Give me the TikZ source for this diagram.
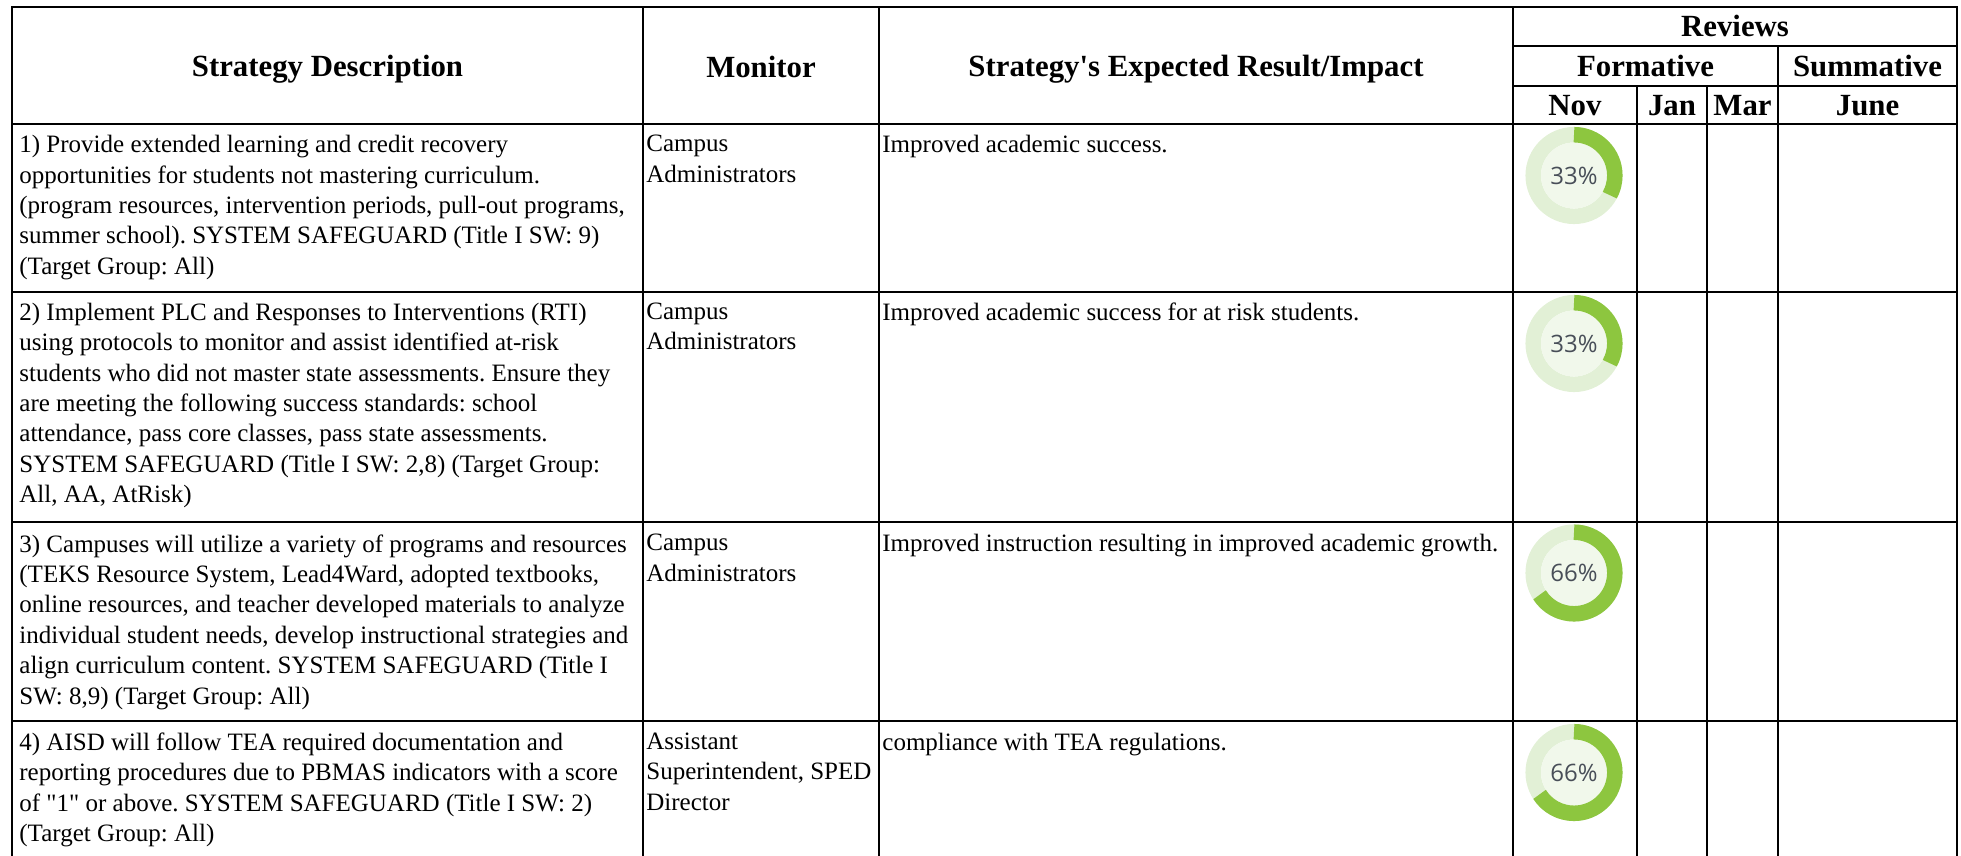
\documentclass[tikz,border=0pt]{standalone}
\usepackage{fontspec}
\setmainfont{Liberation Serif}[Ligatures=TeXOff]
\newfontfamily\pctfont{Open Sans}
\usepackage{tikz}
\usetikzlibrary{positioning}
\definecolor{donutgreen}{RGB}{141,198,63}
\definecolor{donutring}{RGB}{226,240,214}
\definecolor{donutcore}{RGB}{241,248,235}
\definecolor{pctgray}{RGB}{72,78,88}
\frenchspacing

\begin{document}
\begin{tikzpicture}[x=0.5pt,y=-0.5pt,line cap=rect,line join=miter,
  grid/.style={line width=1pt,color=black},
  headtxt/.style={font=\fontsize{15.4}{18}\selectfont\bfseries,inner sep=0pt},
  celltxt/.style={font=\fontsize{12.5}{15.2}\selectfont,align=left,anchor=north west,inner sep=0pt},
  pcttxt/.style={font=\pctfont\fontsize{12}{13}\selectfont,color=pctgray,inner sep=0pt}]
\useasboundingbox (0,0) rectangle (1961,856);
% table rules
\draw [grid] (12,7.5)-- (1957,7.5);
\draw [grid] (1513,46)-- (1957,46);
\draw [grid] (1513,86)-- (1957,86);
\draw [grid] (12,124)-- (1957,124);
\draw [grid] (12,291.5)-- (1957,291.5);
\draw [grid] (12,521.5)-- (1957,521.5);
\draw [grid] (12,720.5)-- (1957,720.5);
\draw [grid] (12,7.5)-- (12,860);
\draw [grid] (643,7.5)-- (643,860);
\draw [grid] (879,7.5)-- (879,860);
\draw [grid] (1513,7.5)-- (1513,860);
\draw [grid] (1637,86)-- (1637,860);
\draw [grid] (1707,86)-- (1707,860);
\draw [grid] (1778,46)-- (1778,860);
\draw [grid] (1957,7.5)-- (1957,860);
% header
\node [headtxt] (hstrat) at (327.5,69) {Strategy Description};
\node [headtxt] (hmon) at (761,66.5) {Monitor};
\node [headtxt] (hres) at (1196,69.5) {Strategy's Expected Result/Impact};
\node [headtxt] (hrev) at (1735,25.5) {Reviews};
\node [headtxt] (hform) at (1645.5,66) {Formative};
\node [headtxt] (hsum) at (1867.5,66) {Summative};
\node [headtxt] (hnov) at (1575,106) {Nov};
\node [headtxt] (hjan) at (1672,106) {Jan};
\node [headtxt] (hmar) at (1742.5,106) {Mar};
\node [headtxt] (hjune) at (1867.5,106) {June};
% row 1
\node [celltxt] (strat1) at (19,135) {1) Provide extended learning and credit recovery\\opportunities for students not mastering curriculum.\\(program resources, intervention periods, pull-out programs,\\summer school). SYSTEM SAFEGUARD (Title I SW: 9)\\(Target Group: All)};
\node [celltxt] (mon1) at (646,135) {Campus\\Administrators};
\node [celltxt] (res1) at (882,135) {Improved academic success.};
% row 2
\node [celltxt] (strat2) at (19,302.5) {2) Implement PLC and Responses to Interventions (RTI)\\using protocols to monitor and assist identified at-risk\\students who did not master state assessments. Ensure they\\are meeting the following success standards: school\\attendance, pass core classes, pass state assessments.\\SYSTEM SAFEGUARD (Title I SW: 2,8) (Target Group:\\All, AA, AtRisk)};
\node [celltxt] (mon2) at (646,302.5) {Campus\\Administrators};
\node [celltxt] (res2) at (882,302.5) {Improved academic success for at risk students.};
% row 3
\node [celltxt] (strat3) at (19,534) {3) Campuses will utilize a variety of programs and resources\\(TEKS Resource System, Lead4Ward, adopted textbooks,\\online resources, and teacher developed materials to analyze\\individual student needs, develop instructional strategies and\\align curriculum content. SYSTEM SAFEGUARD (Title I\\SW: 8,9) (Target Group: All)};
\node [celltxt] (mon3) at (646,534) {Campus\\Administrators};
\node [celltxt] (res3) at (882,534) {Improved instruction resulting in improved academic growth.};
% row 4
\node [celltxt] (strat4) at (19,732.5) {4) AISD will follow TEA required documentation and\\reporting procedures due to PBMAS indicators with a score\\of "1" or above. SYSTEM SAFEGUARD (Title I SW: 2)\\(Target Group: All)};
\node [celltxt] (mon4) at (646,732.5) {Assistant\\Superintendent, SPED\\Director};
\node [celltxt] (res4) at (882,732.5) {compliance with TEA regulations.};
% progress donuts
\draw [color=donutring][line width=7.75pt] (1574,175.5) circle (20.4pt);
\fill [color=donutcore] (1574,175.5) circle (16.5pt);
\draw [color=donutgreen][line width=7.75pt,line cap=butt] (1574,175.5) ++(0,-40.8) arc [start angle=90,end angle=-28.8,radius=20.4pt];
\node [pcttxt] (pct1) at (1574,175.5) {33\%};
\draw [color=donutring][line width=7.75pt] (1574,343.5) circle (20.4pt);
\fill [color=donutcore] (1574,343.5) circle (16.5pt);
\draw [color=donutgreen][line width=7.75pt,line cap=butt] (1574,343.5) ++(0,-40.8) arc [start angle=90,end angle=-28.8,radius=20.4pt];
\node [pcttxt] (pct2) at (1574,343.5) {33\%};
\draw [color=donutring][line width=7.75pt] (1574,573) circle (20.4pt);
\fill [color=donutcore] (1574,573) circle (16.5pt);
\draw [color=donutgreen][line width=7.75pt,line cap=butt] (1574,573) ++(0,-40.8) arc [start angle=90,end angle=-147.6,radius=20.4pt];
\node [pcttxt] (pct3) at (1574,573) {66\%};
\draw [color=donutring][line width=7.75pt] (1574,772.5) circle (20.4pt);
\fill [color=donutcore] (1574,772.5) circle (16.5pt);
\draw [color=donutgreen][line width=7.75pt,line cap=butt] (1574,772.5) ++(0,-40.8) arc [start angle=90,end angle=-147.6,radius=20.4pt];
\node [pcttxt] (pct4) at (1574,772.5) {66\%};
\end{tikzpicture}
\end{document}
